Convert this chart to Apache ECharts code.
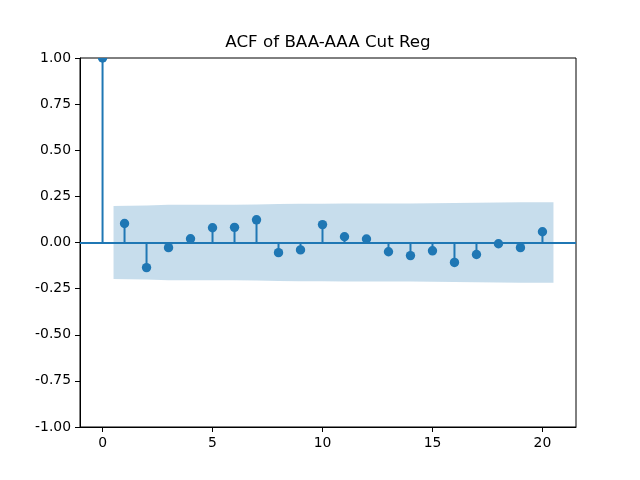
<!DOCTYPE html>
<html>
<head>
<meta charset="utf-8">
<script src="https://cdn.jsdelivr.net/npm/echarts@6/dist/echarts.min.js"></script>
<style>html,body{margin:0;padding:0;background:#fff}#c{width:640px;height:480px}</style>
</head>
<body>
<div id="c"></div>
<script>
var titleText = 'ACF of BAA-AAA Cut Reg';
var lags = [0,1,2,3,4,5,6,7,8,9,10,11,12,13,14,15,16,17,18,19,20];
var acfValues = [1.0,0.103,-0.136,-0.028,0.020,0.080,0.082,0.123,-0.055,-0.040,0.097,0.031,0.019,-0.050,-0.071,-0.045,-0.108,-0.065,-0.007,-0.028,0.058];
var bandX = [0.5,2,3,4,5,6,7,8,9,10,11,12,13,14,15,16,17,18,19,20.5];
var bandHalf = [0.198,0.200,0.204,0.204,0.204,0.205,0.206,0.209,0.210,0.210,0.212,0.212,0.212,0.212,0.213,0.214,0.215,0.217,0.218,0.218];
var xTicks = [0,5,10,15,20];

var C = '#1f77b4';
var FONT = 'DejaVu Sans';
var chart = echarts.init(document.getElementById('c'), null, {renderer:'canvas'});
chart.setOption({
  animation:false,
  backgroundColor:'#fff',
  grid:{left:80,right:64,top:58,bottom:53,show:true,borderColor:'#000',borderWidth:1,backgroundColor:'transparent'},
  graphic:[{type:'text',x:328,y:43,style:{text:titleText,textAlign:'center',textVerticalAlign:'middle',fontSize:16.7,fontFamily:FONT,fill:'#000'}}],
  xAxis:{type:'value',min:-1.025,max:21.525,
    axisLine:{show:true,onZero:false,lineStyle:{color:'#000',width:1}},
    axisTick:{show:true,length:5,inside:false,customValues:xTicks,lineStyle:{color:'#000'}},
    axisLabel:{customValues:xTicks,margin:9,fontSize:13.9,fontFamily:FONT,color:'#000'},
    splitLine:{show:false}},
  yAxis:{type:'value',min:-1,max:1,interval:0.25,
    axisLine:{show:true,onZero:false,lineStyle:{color:'#000',width:1}},
    axisTick:{show:true,length:5,inside:false,lineStyle:{color:'#000'}},
    axisLabel:{margin:9,fontSize:13.9,fontFamily:FONT,color:'#000',formatter:function(v){return v.toFixed(2);}},
    splitLine:{show:false}},
  series:[
    {type:'custom',z:1,clip:true,data:[[0,0]],
     renderItem:function(params,api){
       var up=[],lo=[];
       for(var i=0;i<bandX.length;i++){up.push(api.coord([bandX[i],bandHalf[i]]));}
       for(var j=bandX.length-1;j>=0;j--){lo.push(api.coord([bandX[j],-bandHalf[j]]));}
       return {type:'polygon',shape:{points:up.concat(lo)},style:{fill:'rgba(31,119,180,0.25)',lineWidth:0}};
     }},
    {type:'custom',z:2,clip:true,
     data:lags.map(function(l,i){return [l,acfValues[i]];}),
     renderItem:function(params,api){
       var cs=params.coordSys;
       var p0=api.coord([api.value(0),0]);
       var p1=api.coord([api.value(0),api.value(1)]);
       return {type:'group',
         clipPath:{type:'rect',shape:{x:cs.x,y:cs.y,width:cs.width,height:cs.height}},
         children:[
         {type:'line',shape:{x1:p0[0],y1:p0[1],x2:p1[0],y2:p1[1]},style:{stroke:C,lineWidth:2}},
         {type:'circle',shape:{cx:p1[0],cy:p1[1],r:4.7},style:{fill:C}}
       ]};
     },
     markLine:{silent:true,symbol:['none','none'],label:{show:false},lineStyle:{color:C,width:2,type:'solid'},data:[{yAxis:0}]}}
  ]
});
</script>
</body>
</html>
